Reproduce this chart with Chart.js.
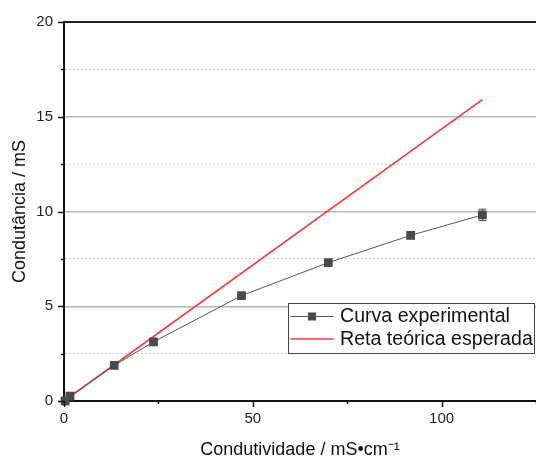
<!DOCTYPE html>
<html>
<head>
<meta charset="utf-8">
<script src="https://cdn.jsdelivr.net/npm/chart.js@4"></script>
<style>
  html, body { margin: 0; padding: 0; background: #fff; }
  #wrap { width: 536px; height: 459px; }
</style>
</head>
<body>
<div id="wrap"><canvas id="chart" width="536" height="459"></canvas></div>
<script>
// medidas: condutividade (mS/cm) x condutância (mS)
const condutividade = [0.3, 1.6, 13.3, 23.7, 47.0, 70.0, 91.8, 110.8];
const condutancia = [0.0, 0.26, 1.88, 3.12, 5.56, 7.30, 8.74, 9.82];
const erroCondutancia = [0, 0, 0, 0, 0, 0, 0, 0.3];

// reta teórica
const retaX = [0, 110.8];
const retaY = [0, 15.9];

const FONT = "'Liberation Sans', Arial, sans-serif";

// barras de erro
const errorBars = {
  id: 'errorBars',
  afterDatasetsDraw(chart) {
    const { ctx, scales: { x, y } } = chart;
    ctx.save();
    ctx.strokeStyle = '#444';
    ctx.lineWidth = 1;
    condutividade.forEach((cx, i) => {
      const e = erroCondutancia[i];
      if (!e) return;
      const px = x.getPixelForValue(cx);
      const top = y.getPixelForValue(condutancia[i] + e);
      const bot = y.getPixelForValue(condutancia[i] - e);
      ctx.beginPath();
      ctx.moveTo(px, top); ctx.lineTo(px, bot);
      ctx.moveTo(px - 4, top); ctx.lineTo(px + 4, top);
      ctx.moveTo(px - 4, bot); ctx.lineTo(px + 4, bot);
      ctx.stroke();
    });
    ctx.restore();
  }
};

// marcas principais e secundárias dos eixos
const axisTicks = {
  id: 'axisTicks',
  afterDraw(chart) {
    const { ctx, chartArea, scales: { x, y } } = chart;
    ctx.save();
    ctx.strokeStyle = '#111';
    ctx.lineWidth = 1.5;
    x.ticks.forEach(t => {
      const px = Math.round(x.getPixelForValue(t.value)) + 0.5;
      const len = t.value % 50 === 0 ? 6 : 3;
      ctx.beginPath();
      ctx.moveTo(px, chartArea.bottom);
      ctx.lineTo(px, chartArea.bottom + len);
      ctx.stroke();
    });
    y.ticks.forEach(t => {
      const py = Math.round(y.getPixelForValue(t.value)) + 0.5;
      const len = t.value % 5 === 0 ? 6 : 3;
      ctx.beginPath();
      ctx.moveTo(chartArea.left, py);
      ctx.lineTo(chartArea.left - len, py);
      ctx.stroke();
    });
    ctx.restore();
  }
};

// legenda dentro da área do gráfico
const boxLegend = {
  id: 'boxLegend',
  afterDraw(chart) {
    const { ctx } = chart;
    const left = 288.5, top = 303.5;
    ctx.save();
    ctx.fillStyle = '#fff';
    ctx.strokeStyle = '#444';
    ctx.lineWidth = 1;
    ctx.fillRect(left, top, 246, 50);
    ctx.strokeRect(left, top, 246, 50);
    ctx.font = '19.6px ' + FONT;
    ctx.textBaseline = 'middle';
    chart.data.datasets.forEach((ds, i) => {
      const cy = top + 13 + i * 22.5;
      ctx.strokeStyle = ds.borderColor;
      ctx.lineWidth = ds.borderWidth;
      ctx.beginPath();
      ctx.moveTo(left + 2, cy);
      ctx.lineTo(left + 45, cy);
      ctx.stroke();
      if (ds.pointRadius) {
        ctx.fillStyle = ds.pointBackgroundColor;
        ctx.fillRect(left + 19.5, cy - 4, 8, 8);
      }
      ctx.fillStyle = '#111';
      ctx.fillText(ds.label, left + 51.5, cy + 0.5);
    });
    ctx.restore();
  }
};

new Chart(document.getElementById('chart'), {
  type: 'line',
  data: {
    datasets: [
      {
        label: 'Curva experimental',
        data: condutividade.map((v, i) => ({ x: v, y: condutancia[i] })),
        borderColor: '#555',
        borderWidth: 1,
        pointStyle: 'rect',
        pointRadius: 6.2,
        pointBackgroundColor: '#4a4a4a',
        pointBorderColor: '#4a4a4a',
        pointBorderWidth: 0,
        clip: false,
        order: 1
      },
      {
        label: 'Reta teórica esperada',
        data: retaX.map((v, i) => ({ x: v, y: retaY[i] })),
        borderColor: '#f03c3c',
        borderWidth: 1.6,
        pointRadius: 0,
        clip: false,
        order: 2
      }
    ]
  },
  options: {
    responsive: false,
    animation: false,
    layout: { autoPadding: false, padding: { top: 22, right: 0, bottom: 0, left: 0 } },
    plugins: { legend: { display: false }, tooltip: { enabled: false } },
    scales: {
      x: {
        type: 'linear',
        min: 0,
        max: 125,
        afterFit: s => {
          s.height = 58;
          s.paddingLeft = 0;
          s.paddingRight = 0;
        },
        ticks: {
          stepSize: 25,
          autoSkip: false,
          padding: 9,
          color: '#222',
          font: { family: FONT, size: 15 },
          callback: v => (v % 50 === 0 ? String(v) : '')
        },
        grid: { drawOnChartArea: false, drawTicks: false },
        border: { color: '#111', width: 2 },
        title: {
          display: true,
          text: 'Condutividade / mS•cm⁻¹',
          color: '#111',
          font: { family: FONT, size: 18, lineHeight: 1 },
          padding: { top: 0, bottom: 0 }
        }
      },
      y: {
        min: 0,
        max: 20,
        afterFit: s => { s.width = 64; },
        ticks: {
          stepSize: 2.5,
          autoSkip: false,
          padding: 11,
          color: '#222',
          font: { family: FONT, size: 15 },
          callback: v => (v % 5 === 0 ? String(v) : '')
        },
        grid: {
          drawTicks: false,
          color: c => {
            const v = c.tick ? c.tick.value : 0;
            if (v === 0) return 'rgba(0,0,0,0)';
            if (v === 20) return '#222';
            return v % 5 === 0 ? '#b8b8b8' : '#cfcfcf';
          },
          lineWidth: c => {
            const v = c.tick ? c.tick.value : 0;
            if (v === 20) return 2;
            return v % 5 === 0 ? 1.5 : 1;
          }
        },
        border: {
          color: '#111',
          width: 2,
          dash: c => (c.tick && c.tick.value % 5 !== 0 ? [2, 2] : [])
        },
        title: {
          display: true,
          text: 'Condutância / mS',
          color: '#111',
          font: { family: FONT, size: 18, lineHeight: 1.2 },
          padding: { top: 9, bottom: 0 }
        }
      }
    }
  },
  plugins: [errorBars, axisTicks, boxLegend]
});
</script>
</body>
</html>
